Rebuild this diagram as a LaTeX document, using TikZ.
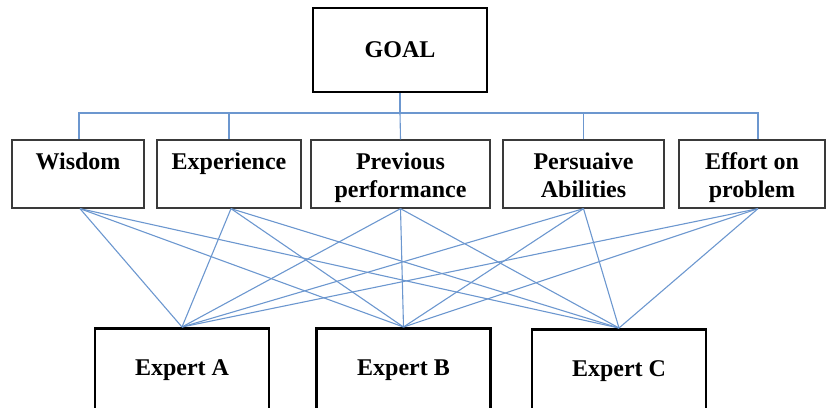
\documentclass[tikz,border=0pt]{standalone}
\usepackage{fontspec}
\setmainfont{Liberation Serif}
\definecolor{linkblue}{HTML}{6C97CF}
\definecolor{critgray}{HTML}{3A3A3A}
\newcommand\mytopstrut{\rule{0pt}{27pt}}
\begin{document}
\begin{tikzpicture}[x=1pt,y=-1pt,
  lbl/.style={font=\fontsize{24}{28}\selectfont\bfseries, text=black},
  goalbox/.style={draw=black, line width=2pt, minimum width=174pt, minimum height=84pt, inner sep=0pt, lbl},
  critbox/.style={draw=critgray, line width=1.3pt, minimum height=68pt, inner sep=0pt, align=center, lbl},
  expbox/.style={draw=black, line width=2.5pt, minimum width=174pt, minimum height=84pt, inner sep=0pt, anchor=north, lbl},
  link/.style={draw=linkblue, line width=1.1pt}
]
\useasboundingbox (0,0) rectangle (826,407);
\clip (0,0) rectangle (826,407);

% goal
\node[goalbox] (goal) at (400,50) {GOAL};

% criteria
\node[critbox, minimum width=132pt] (wis) at (78,174) {\mytopstrut Wisdom\\\strut};
\node[critbox, minimum width=144pt] (exp) at (229,174) {\mytopstrut Experience\\\strut};
\node[critbox, minimum width=179pt] (prev) at (400.5,174) {\mytopstrut Previous\\\strut performance};
\node[critbox, minimum width=161pt] (pers) at (583.5,174) {\mytopstrut Persuaive\\\strut Abilities};
\node[critbox, minimum width=146pt] (eff) at (752,174) {\mytopstrut Effort on\\\strut problem};
\coordinate (effT) at ([xshift=6pt]eff.north);
\coordinate (effB) at ([xshift=6pt]eff.south);

% experts
\node[expbox] (ea) at (182,327) {\strut Expert A};
\node[expbox] (eb) at (403.5,327) {\strut Expert B};
\node[expbox] (ec) at (619,328) {\strut Expert C};

% tree from goal
\coordinate (bus) at (400,113);
\draw[link] (goal.south) -- (bus);
\draw[link] ([xshift=1pt]wis.north) |- (bus);
\draw[link] (exp.north) |- (bus);
\draw[link] (prev.north) -- (bus);
\draw[link] (pers.north) |- (bus);
\draw[link] (effT) |- (bus);

% criteria to experts
\foreach \e in {ea,eb,ec}{
  \draw[link] ([xshift=2pt]wis.south) -- (\e.north);
  \draw[link] ([xshift=2pt]exp.south) -- (\e.north);
  \draw[link] (prev.south) -- (\e.north);
  \draw[link] (pers.south) -- (\e.north);
  \draw[link] (effB) -- (\e.north);
}
\end{tikzpicture}
\end{document}
